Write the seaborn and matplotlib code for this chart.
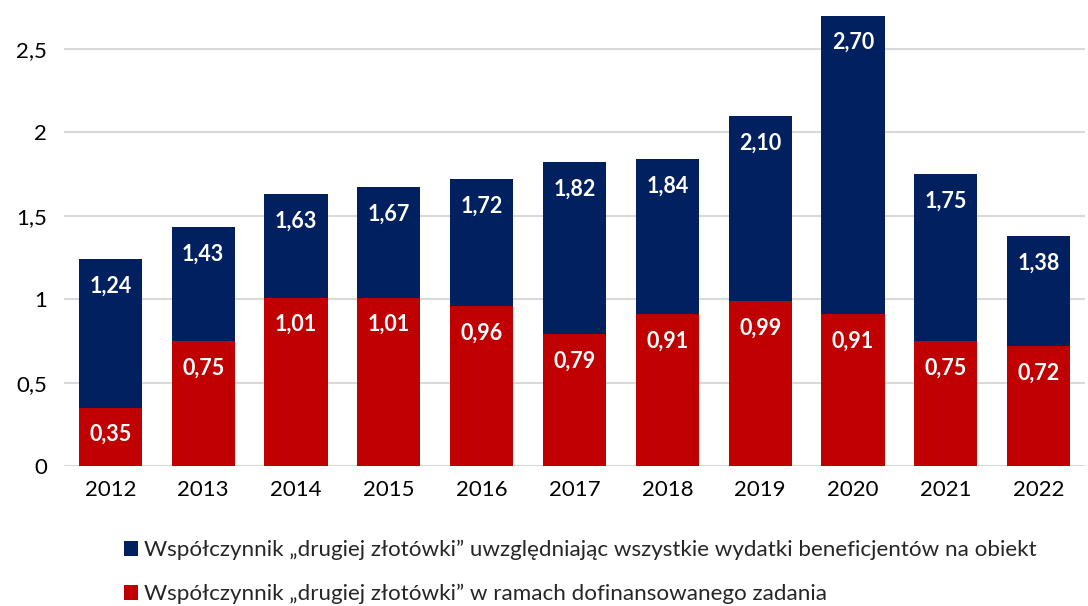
import matplotlib
matplotlib.use("Agg")
import matplotlib.pyplot as plt
import seaborn as sns
import pandas as pd
from matplotlib.patches import Patch

years = ["2012", "2013", "2014", "2015", "2016", "2017", "2018", "2019", "2020", "2021", "2022"]
total_vals = [1.24, 1.43, 1.63, 1.67, 1.72, 1.82, 1.84, 2.10, 2.70, 1.75, 1.38]
task_vals = [0.35, 0.75, 1.01, 1.01, 0.96, 0.79, 0.91, 0.99, 0.91, 0.75, 0.72]
y_ticks = [0, 0.5, 1, 1.5, 2, 2.5]
y_tick_labels = ["0", "0,5", "1", "1,5", "2", "2,5"]
series_names = [
    "Współczynnik „drugiej złotówki” uwzględniając wszystkie wydatki beneficjentów na obiekt",
    "Współczynnik „drugiej złotówki” w ramach dofinansowanego zadania",
]
colors = ["#002060", "#C00000"]

sns.set_theme(style="white")
plt.rcParams["font.family"] = ["Lato", "DejaVu Sans"]

df = pd.DataFrame({"year": years, "total": total_vals, "task": task_vals})

fig = plt.figure(figsize=(10.88, 6.06), dpi=100)
ax = fig.add_axes([64 / 1088, (606 - 466) / 606, (1085 - 64) / 1088, (466 - 7) / 606])

sns.barplot(data=df, x="year", y="total", color=colors[0], width=0.68, ax=ax, zorder=2,
            saturation=1, linewidth=0, edgecolor="none")
sns.barplot(data=df, x="year", y="task", color=colors[1], width=0.68, ax=ax, zorder=3,
            saturation=1, linewidth=0, edgecolor="none")

ax.set_ylim(0, (466 - 7) / 166.8)
ax.set_yticks(y_ticks)
ax.set_yticklabels(y_tick_labels)
ax.yaxis.grid(True, color="#D9D9D9", linewidth=1.5, zorder=0)
ax.set_axisbelow(True)
for s in ax.spines.values():
    s.set_visible(False)
ax.set_xlabel("")
ax.set_ylabel("")
ax.tick_params(axis="both", length=0, labelsize=16, colors="#000000")
ax.tick_params(axis="y", pad=12)
ax.tick_params(axis="x", pad=10)

for i, (t, r) in enumerate(zip(total_vals, task_vals)):
    ax.annotate(f"{t:.2f}".replace(".", ","), xy=(i, t), xytext=(0, -27), textcoords="offset pixels",
                ha="center", va="center", color="white", fontweight="bold", fontsize=15.5, zorder=5)
    ax.annotate(f"{r:.2f}".replace(".", ","), xy=(i, r), xytext=(0, -27), textcoords="offset pixels",
                ha="center", va="center", color="white", fontweight="bold", fontsize=15.5, zorder=5)

handles = [Patch(facecolor=c, edgecolor="none") for c in colors]
fig.legend(handles, series_names, loc="upper left", bbox_to_anchor=(115 / 1088, 1 - 531 / 606),
           frameon=False, fontsize=16.1, handlelength=0.65, handleheight=0.65, handletextpad=0.25,
           labelspacing=1.05, borderaxespad=0)

fig.savefig("out.png", dpi=100)
